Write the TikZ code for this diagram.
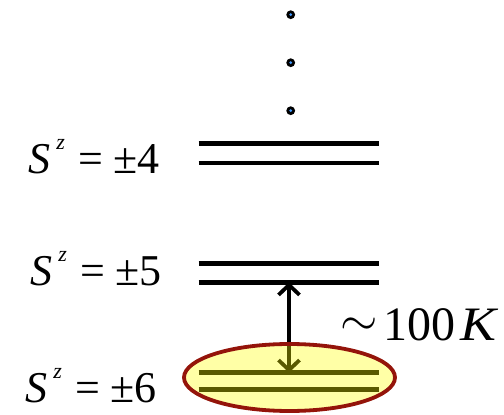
\RequirePackage{fix-cm}
\documentclass[tikz,border=0pt]{standalone}
\usepackage{fontspec}
\setmainfont{Liberation Serif}
\usetikzlibrary{arrows.meta,positioning}
\definecolor{ringred}{rgb}{0.58,0.08,0.04}
\definecolor{ringfill}{rgb}{1,1,0.0}
\definecolor{dotblue}{rgb}{0.25,0.6,1}
\newcommand{\spinlab}[1]{\textit{S}\kern6pt\raisebox{24pt}{\fontsize{22}{22}\selectfont\textit{z}}\kern14pt=\kern10pt±#1}

\begin{document}
\begin{tikzpicture}[x=1pt,y=-1pt,
  level/.style={line width=4.8pt},
  lab/.style={font=\fontsize{44}{50}\selectfont,anchor=base east,inner sep=0pt}]
  \useasboundingbox (0,0) rectangle (504,415);

  % dots above
  \foreach \y in {14.7,62.7,110.7}{
    \fill (290.7,\y) circle [radius=4.4pt];
    \fill[dotblue] (290.7,\y) circle [radius=1.5pt];}

  % doublet levels
  \foreach \n/\ya/\yb in {4/143.5/163, 5/263.3/282.3, 6/372.7/389.3}{
    \draw[level] (198.5,\ya) coordinate (up\n) -- (379,\ya);
    \draw[level] (198.5,\yb) coordinate (lo\n) -- (379,\yb);}

  % labels
  \node[lab] (s4) at (160,173) {\spinlab{4}};
  \node[lab] (s5) at (162,285) {\spinlab{5}};
  \node[lab] (s6) at (157,402) {\spinlab{6}};

  % gap
  \coordinate (gtop) at (289,282.3);
  \coordinate (gbot) at (289,372.7);
  \draw[{Straight Barb[length=10pt,width=21pt]}-{Straight Barb[length=10pt,width=21pt]},line width=3.8pt]
    (gtop) -- (gbot);
  \node[font=\fontsize{48}{52}\selectfont,anchor=base west,inner sep=0pt] (gap) at (340,340)
    {\raisebox{5pt}{$\sim$}\kern6pt100\kern5pt\scalebox{1.12}[1]{\textit{K}}};

  % ground doublet ring
  \draw[ringred,line width=3.8pt,fill=ringfill,fill opacity=0.35]
    (289.5,377.5) ellipse [x radius=105.5,y radius=33.5];
\end{tikzpicture}
\end{document}
